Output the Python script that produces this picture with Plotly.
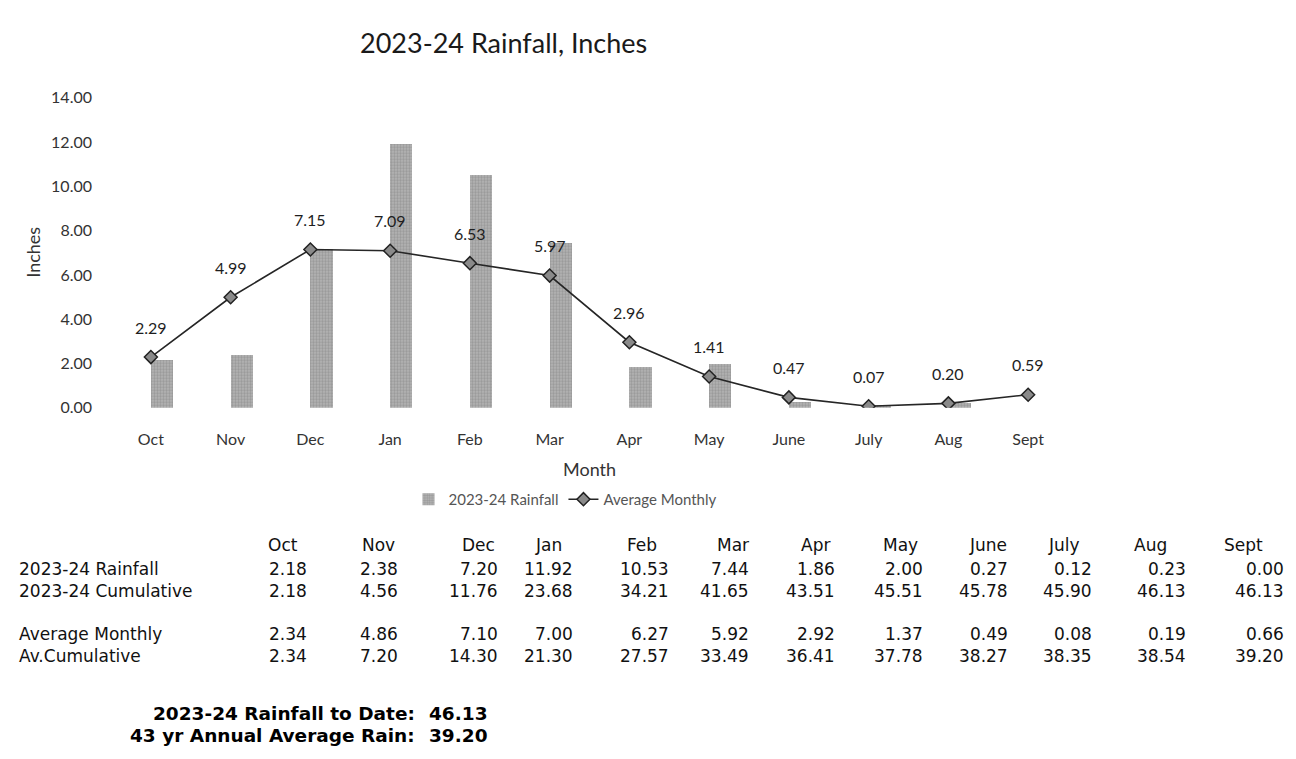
import plotly.graph_objects as go

months = ["Oct", "Nov", "Dec", "Jan", "Feb", "Mar", "Apr", "May", "June", "July", "Aug", "Sept"]
rain_2324 = [2.18, 2.38, 7.20, 11.92, 10.53, 7.44, 1.86, 2.00, 0.27, 0.12, 0.23, 0.00]
avg_monthly_chart = [2.29, 4.99, 7.15, 7.09, 6.53, 5.97, 2.96, 1.41, 0.47, 0.07, 0.20, 0.59]

cum_2324 = [2.18, 4.56, 11.76, 23.68, 34.21, 41.65, 43.51, 45.51, 45.78, 45.90, 46.13, 46.13]
avg_monthly_table = [2.34, 4.86, 7.10, 7.00, 6.27, 5.92, 2.92, 1.37, 0.49, 0.08, 0.19, 0.66]
avg_cum = [2.34, 7.20, 14.30, 21.30, 27.57, 33.49, 36.41, 37.78, 38.27, 38.35, 38.54, 39.20]

row_labels = ["2023-24 Rainfall", "2023-24 Cumulative", "Average Monthly", "Av.Cumulative"]
row_values = [rain_2324, cum_2324, avg_monthly_table, avg_cum]

summary_labels = ["2023-24 Rainfall to Date:", "43 yr Annual Average Rain:"]
summary_values = [46.13, 39.20]

title_text = "2023-24 Rainfall, Inches"
y_title = "Inches"
x_title = "Month"

W, H = 1296, 759
def px(x):
    return x / W
def py(y):
    return 1 - y / H

CHART_FONT = "Lato, 'Open Sans', sans-serif"
TABLE_FONT = "'DejaVu Sans', sans-serif"

fig = go.Figure()
fig.add_trace(go.Bar(
    x=months, y=rain_2324, name="2023-24 Rainfall",
    width=0.28, offset=0,
    marker=dict(color="#a8a8a8", line=dict(width=0),
                pattern=dict(shape=".", fgcolor="#7c7c7c", bgcolor="#b6b6b6", size=3, solidity=0.5)),
))
fig.add_trace(go.Scatter(
    x=months, y=avg_monthly_chart, name="Average Monthly", mode="lines+markers",
    line=dict(color="#262626", width=1.6),
    marker=dict(symbol="diamond", size=10, color="#8a8a8a", line=dict(color="#222222", width=1.5)),
))

annotations = []
# data labels above the average line
for m, v in zip(months, avg_monthly_chart):
    annotations.append(dict(x=m, y=v, xref="x", yref="y", text=f"{v:.2f}", showarrow=False,
                            xanchor="center", yanchor="middle", yshift=30,
                            font=dict(family=CHART_FONT, size=16, color="#1e1e1e")))

def paper_text(x, y, text, size, family=CHART_FONT, color="#333333", xanchor="center", angle=0):
    return dict(x=px(x), y=py(y), xref="paper", yref="paper", text=text, showarrow=False,
                xanchor=xanchor, yanchor="middle", textangle=angle,
                font=dict(family=family, size=size, color=color))

# chart title and axis titles
annotations.append(paper_text(503, 33, title_text, 27, color="#1a1a1a"))
annotations.append(paper_text(33, 249, y_title, 18, angle=-90))
annotations.append(paper_text(589, 471, x_title, 18))

# data table below the chart
header_centers = [283, 378, 479, 548, 642, 733, 815, 900, 988, 1064, 1150, 1243]
value_right = [309, 400, 500, 575, 671, 751, 837, 925, 1010, 1094, 1188, 1286]
header_y = 549
row_y = [573, 596, 640, 663]
TC = "#111111"
for m, xc in zip(months, header_centers):
    annotations.append(paper_text(xc, header_y, m, 17, TABLE_FONT, TC))
for lab, vals, yy in zip(row_labels, row_values, row_y):
    annotations.append(paper_text(17, yy, lab, 17, TABLE_FONT, TC, xanchor="left"))
    for v, xr in zip(vals, value_right):
        annotations.append(paper_text(xr, yy, f"{v:.2f}", 17, TABLE_FONT, TC, xanchor="right"))

summary_y = [722, 744]
for lab, v, yy in zip(summary_labels, summary_values, summary_y):
    annotations.append(paper_text(417, yy, f"<b>{lab}</b>", 18.5, TABLE_FONT, "#000000", xanchor="right"))
    annotations.append(paper_text(427, yy, f"<b>{v:.2f}</b>", 18.5, TABLE_FONT, "#000000", xanchor="left"))

fig.update_layout(
    width=W, height=H,
    margin=dict(l=0, r=0, t=0, b=0),
    paper_bgcolor="white", plot_bgcolor="white",
    showlegend=True,
    legend=dict(orientation="h", x=px(565), y=py(502), xanchor="center", yanchor="middle",
                font=dict(family=CHART_FONT, size=15, color="#555555"), itemwidth=30,
                bgcolor="rgba(0,0,0,0)"),
    xaxis=dict(domain=[px(111), px(1068)], range=[-0.5, 11.5], showgrid=False, showline=False,
               zeroline=False, ticks="", ticklabelstandoff=20,
               tickfont=dict(family=CHART_FONT, size=16, color="#333333")),
    yaxis=dict(domain=[py(408), py(90)], range=[0, 14], dtick=2, tickformat=".2f", showgrid=False,
               showline=False, zeroline=False, ticks="", ticklabelstandoff=18,
               tickfont=dict(family=CHART_FONT, size=16, color="#333333")),
    annotations=annotations,
    bargap=0,
)

fig.write_html("out.html")
